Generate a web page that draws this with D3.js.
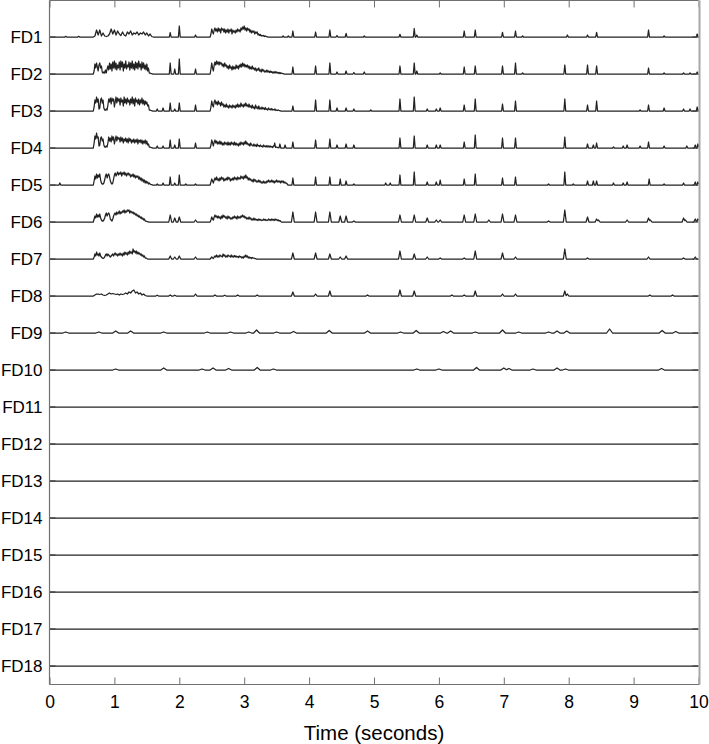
<!DOCTYPE html>
<html>
<head>
<meta charset="utf-8">
<script src="https://cdn.jsdelivr.net/npm/d3@7"></script>
<style>
  body { margin: 0; background: #fff; }
  svg { display: block; }
  text { font-family: "Liberation Sans", Arial, Helvetica, sans-serif; fill: #000; }
</style>
</head>
<body>
<svg id="chart" width="709" height="744"></svg>
<script>
// ---------------- DATA ----------------
const trackLabels = ["FD1","FD2","FD3","FD4","FD5","FD6","FD7","FD8","FD9",
  "FD10","FD11","FD12","FD13","FD14","FD15","FD16","FD17","FD18"];
const xTicks = [0,1,2,3,4,5,6,7,8,9,10];
const xTitle = "Time (seconds)";

// burst segments: [start time (s), sampling step (s)] + sampled amplitudes (a.u.)
const burstAStart = 0.675;
const burstBStart = 2.475;
const fineStep = 0.0125;
const coarseStep = 0.025;

const fd1BurstA = [0,1,7,2,7,1,4,1,0.5,1,3,8,3,7,2,6,3,1.5,5,2,1,5,3,6,2,4,3,5,2,4,3,5,2,4,1,3,0.5,0];
const fd1BurstB = [0,3,8,5,3,7,9,6,8,5,9,6,8,4,9,7,8,5,8,4,7,5,8,4,7,6,8,3,7,5,6,4,7,5,8,6,7,5,9,7,10,8,11,7,9,6,9,7,8,5,7,4,6,5,6,3,5,4,5,2,3,1.5,2.5,1,1.5,1,1.5,0.5,1,0.5,0.5,0,0];
const fd2BurstA = [0,3,10,6,11,7,3,9,11,6,8,2,1,2,1,4,1,5,8,4,11,5,10,3,12,6,13,5,11,4,9,6,12,4,13,7,12,3,10,6,13,5,9,7,12,4,11,6,13,5,10,4,12,6,11,5,13,7,10,4,12,6,11,5,9,4,10,3,6,1,1,0.5,0.5,0,0];
const fd2BurstB = [0,5,11,6,3,9,12,9,13,10,12,9,12,10,11,8,10,7,11,8,9,6,8,5,9,6,7,4,8,5,7,5,9,6,8,5,9,7,10,7,11,8,10,7,9,7,9,6,8,5,7,5,8,5,6,4,6,3,5,4,6,3,4,2,5,3,4,2,3,2,4,2,3,1.5,3,1.5,2.5,1,2,1,2.5,1,2,1,1.5,0.5,1.5,0.5,1,0.5,0.5,0,0];
const fd3BurstA = [0,4,11,8,14,9,12,2,3,11,13,8,11,3,1,1,2,1,6,12,9,13,7,13,10,12,4,9,14,8,13,10,12,6,13,9,11,5,14,8,12,7,13,9,11,6,12,8,14,7,12,5,13,9,11,7,12,6,11,8,13,7,11,6,10,7,9,5,6,1,1,0.5,0.5,0,0];
const fd3BurstB = [0,4,10,6,4,9,11,7,9,6,10,7,8,5,9,6,7,4,6,4,7,4,5,3,6,4,5,3,6,4,5,3,6,4,7,4,6,4,8,5,6,4,7,5,8,5,6,4,7,4,5,3,6,3,4,2,6,3,4,2,5,2,3,2,4,2,3,1.5,3.5,1.5,2,1,3,1.5,2,1,2.5,1,1.5,1,2,0.5,1,0.5,1,0.5,0.5,0,0];
const fd4BurstA = [0,5,12,9,15,10,11,2,3,10,11,7,9,3,1,1,2,1,5,11,7,10,6,12,8,11,4,8,12,7,11,9,10,6,11,7,10,5,9,7,10,6,9,5,10,7,9,5,8,6,9,5,8,6,9,4,8,6,8,5,8,4,7,5,8,4,7,3,4,1,1,0.5,0.5,0,0];
const fd4BurstB = [0,3,8,5,2,6,8,5,7,4,6,4,7,4,6,3,5,3,6,4,5,3,6,3,5,3,6,4,5,3,6,3,5,3,4,2,5,3,6,4,5,3,6,4,7,4,5,3,4,2,5,3,3,2,4,2,3,1.5,4,2,2.5,1.5,3,1.5,2,1,3,1.5,2,1,2.5,1,2,1,2,1,1.5,0.5,2,1,1,0.5,1,0.5,0.5,0,0];
const fd5BurstA = [0,4,9,6,11,7,10,8,11,5,2, 1,1,2,5, 9,11,7,10,11,8,4,2, 1,2,6,10,
  12,9,11,13,10,12,11,13,9,12,11,13,10,12,9,11,12,10,11,8,10,9,11,8,10,7,9,8,
  9,6,8,5,7,4,6,3,5,2,4,2,3,1,2,1,0.5,0.5,0,0];
const fd5BurstB = [0,3,6,4,2,5,7,5,8,5,6,4,7,5,8,6,7,4,6,5,7,5,8,6,7,4,6,5,7,5,8,6,7,5,8,6,7,6,9,7,8,6,9,7,10,7,8,5,7,5,6,4,5,3,6,4,5,3,4,3,5,3,4,2,3,2,4,2,3,2,4,3,5,3,4,3,5,3,4,2,4,3,5,3,4,3,4,2,4,3,4,2,3,2,2,1,0];
const fd6BurstA = [0,3,6,4,8,5,7,5,8,4,2, 1,1,2,4, 7,9,6,8,9,7,3,2, 1,3,6,8,
  9,7,10,8,9,11,8,10,9,11,10,12,9,11,10,12,11,12,9,11,10,9,10,8,9,7,8,6,
  7,5,6,4,5,3,4,2,3,1,1,0.5,0.5,0,0,0,0,0,0,0];
const fd6BurstB = [0,2,5,3,2,5,7,5,6,4,6,4,5,3,6,4,7,5,6,4,5,3,6,4,5,3,4,3,5,4,6,4,5,3,6,4,5,4,6,5,7,5,6,4,5,3,4,3,5,3,4,2,3,2,4,2,3,2,2.5,1.5,3,2,2.5,1.5,2,1.5,3,2,2.5,1.5,2,1.5,3,2,2.5,1.5,3,2,2.5,1.5,3,2,2.5,1.5,2,1,1.5,0.5,0];
const fd7BurstA = [0,2,5,3,7,4,5,3,6,3,2, 1,0.5,1,2, 4,5,3,5,4,3,2,3, 4,5,3,5,
  6,4,5,3,5,4,6,4,5,3,6,4,7,5,6,4,7,5,8,6,7,5,10,7,8,6,8,5,7,5,
  6,4,5,3,4,2,3,1,1,0.5,0,0];
const fd7BurstB = [0,1,2,1,0.5,2,3,2,4,2,3,2,4,3,3,2,5,3,4,2,3,2,4,3,3,2,4,2,3,2,3.5,2,3,2,2.5,1.5,3,2,2.5,1,2,1,3,2,4,2,3,1,2,1,1.5,0.5,1.5,1,1,0.5,0.5,0,0];
const fd8BurstA = [0,1,2,2,1.5,2,1,0.5,1,2,3,2,2.5,2,1.5,2,1,2,1.5,2,3,2,4,3,5,6,3,4,2,3,1,2,0.5,0];

// isolated peaks: [time (s), amplitude (a.u.)]
const fd1Spikes = [[0.25,0.7],[0.45,0.7],[1.86,4.5],[2.0,11],[2.25,2],[3.6,1],[3.68,1],[3.75,6],[4.1,5],[4.32,7],[4.43,1.5],[4.57,3.7],[4.85,1],[5.4,2.7],[5.62,8.5],[5.66,2],[6.39,6],[6.56,7],[6.98,4.7],[7.18,6],[7.29,1],[7.98,2],[8.29,2],[8.43,4.7],[9.23,7],[9.47,1],[9.98,3]];
const fd2Spikes = [[1.86,11],[1.93,5],[2.0,15],[2.25,5],[3.75,7],[4.1,8],[4.32,11],[4.43,2],[4.57,3],[4.69,1.5],[4.85,2],[5.4,8],[5.62,11],[5.66,3],[6.02,1],[6.39,7],[6.56,8],[6.98,8],[7.18,11],[7.29,1],[7.94,9],[8.29,9],[8.43,8],[9.23,6],[9.47,1],[9.77,1],[9.87,1],[9.98,2]];
const fd3Spikes = [[1.66,2],[1.75,3],[1.86,8],[1.93,2],[2.0,8],[2.25,6],[3.75,5],[4.1,11],[4.32,11],[4.43,3],[4.57,3],[4.69,2],[4.95,1],[5.4,12],[5.62,14],[5.82,2],[5.96,2],[6.02,3],[6.39,6],[6.56,12],[6.98,7],[7.18,10],[7.94,12],[8.29,6],[8.43,10],[9.1,1],[9.23,6],[9.47,3],[9.77,2],[9.87,2],[9.98,4]];
const fd4Spikes = [[1.66,2],[1.75,2],[1.86,8],[1.93,3],[2.0,9],[2.25,5],[3.47,5],[3.55,4],[3.63,3],[3.75,6],[4.1,8],[4.32,9],[4.43,3],[4.57,4],[4.69,3],[5.4,10],[5.62,12],[5.82,3],[5.96,3],[6.02,3],[6.39,6],[6.56,13],[6.98,10],[7.18,10],[7.94,11],[8.29,4],[8.38,3],[8.43,5],[8.69,1],[8.84,2],[8.9,3],[9.1,2],[9.23,6],[9.47,2],[9.82,2],[9.95,3],[9.99,4]];
const fd5Spikes = [[0.16,2],[1.66,1],[1.75,2],[1.86,8],[1.93,2],[2.0,10],[2.1,1],[2.25,1],[3.75,7],[4.1,8],[4.32,8],[4.48,6],[4.57,4],[4.69,1],[5.18,2],[5.25,2],[5.4,10],[5.62,13],[5.82,3],[5.96,3],[6.02,5],[6.39,6],[6.56,11],[6.98,7],[7.18,8],[7.69,1],[7.94,13],[8.07,1],[8.29,4],[8.38,4],[8.43,4],[8.69,2],[8.84,2],[8.9,3],[9.24,6],[9.47,1],[9.77,2],[9.95,3],[9.99,3]];
const fd6Spikes = [[1.86,7],[1.93,4],[2.0,5],[2.25,2],[3.75,10],[4.1,10],[4.32,10],[4.48,6],[4.57,6],[4.69,1],[5.4,7],[5.62,7],[5.82,4],[5.96,2],[6.02,2],[6.39,7],[6.56,8],[6.77,2],[6.98,8],[7.18,7],[7.69,1],[7.94,12],[8.29,5],[8.43,3],[8.46,2],[8.9,2],[9.23,4],[9.26,2],[9.77,4],[9.8,2],[9.95,3],[9.99,3]];
const fd7Spikes = [[1.86,3],[1.93,2],[2.0,3],[2.25,2],[3.75,6],[4.1,6],[4.32,5],[4.48,2],[4.57,3],[5.4,8],[5.62,5],[5.82,2],[6.02,1],[6.39,1],[6.56,8],[6.98,6],[7.18,2],[7.94,10],[8.29,1],[9.23,2],[9.77,1],[9.95,2]];
const fd8Spikes = [[1.66,0.8],[1.86,1],[1.93,0.8],[2.25,2],[2.55,1],[2.7,0.8],[2.9,1],[3.2,1],[3.75,4],[4.1,2],[4.32,5],[4.9,1],[5.4,6],[5.62,5],[6.2,1],[6.39,1],[6.56,5],[6.98,2],[7.18,2],[7.94,5],[7.98,2],[9.25,1],[9.6,1]];
const fd9Spikes = [[0.25,1],[0.76,1],[1.02,2],[1.25,2],[1.76,1],[2.43,1],[2.79,1],[3.07,1],[3.19,3],[3.5,1],[3.76,1.5],[4.31,2.5],[4.9,2],[5.41,1],[5.65,2.5],[6.07,1.5],[6.18,2],[6.56,1],[6.98,3],[7.23,1],[7.69,1],[7.82,2],[7.97,2],[8.63,4],[9.44,2.5],[9.65,1.5]];
const fd10Spikes = [[1.02,1],[1.76,2],[2.35,1],[2.52,2],[2.76,1.5],[3.2,2.5],[3.45,1],[5.66,1],[6.0,1],[6.58,2.5],[7.0,2],[7.08,1.5],[7.45,1],[7.82,2],[7.95,1],[9.43,1.5]];
const fd11Spikes = [];

// table built from the arrays above
const tracks = [
  { spikes: fd1Spikes, bursts: [[burstAStart, coarseStep, fd1BurstA], [burstBStart, fineStep, fd1BurstB]] },
  { spikes: fd2Spikes, bursts: [[burstAStart, fineStep, fd2BurstA], [burstBStart, fineStep, fd2BurstB]] },
  { spikes: fd3Spikes, bursts: [[burstAStart, fineStep, fd3BurstA], [burstBStart, fineStep, fd3BurstB]] },
  { spikes: fd4Spikes, bursts: [[burstAStart, fineStep, fd4BurstA], [burstBStart, fineStep, fd4BurstB]] },
  { spikes: fd5Spikes, bursts: [[burstAStart, fineStep, fd5BurstA], [burstBStart, fineStep, fd5BurstB]] },
  { spikes: fd6Spikes, bursts: [[burstAStart, fineStep, fd6BurstA], [burstBStart, fineStep, fd6BurstB]] },
  { spikes: fd7Spikes, bursts: [[burstAStart, fineStep, fd7BurstA], [burstBStart, fineStep, fd7BurstB]] },
  { spikes: fd8Spikes, bursts: [[burstAStart, coarseStep, fd8BurstA]] },
  { spikes: fd9Spikes, bursts: [] },
  { spikes: fd10Spikes, bursts: [] },
  { spikes: fd11Spikes, bursts: [] }
];
trackLabels.forEach((lab, i) => {
  if (!tracks[i]) tracks[i] = { spikes: [], bursts: [] };
  tracks[i].label = lab;
  tracks[i].index = i + 1;
});

// ---------------- CHART ----------------
const svg = d3.select("#chart");
const x = d3.scaleLinear().domain([0, 10]).range([49.5, 698.5]);
const y = d3.scaleLinear().domain([0, 18.5]).range([0, 684.5]);
const amp = d3.scaleLinear().domain([0, 37]).range([0, y(1) - y(0)]);
const plotTop = 0.5, plotBottom = y(18.5);

function peakHalfWidth(k) {
  if (k <= 5) return 0.014;
  if (k <= 8) return 0.022;
  return 0.045;
}

function evalPL(c, t) {
  if (t < c[0][0] || t > c[c.length - 1][0]) return 0;
  for (let i = 1; i < c.length; i++) {
    const a = c[i - 1], b = c[i];
    if (t <= b[0]) {
      if (b[0] === a[0]) return Math.max(a[1], b[1]);
      return a[1] + (b[1] - a[1]) * (t - a[0]) / (b[0] - a[0]);
    }
  }
  return 0;
}

function traceValues(tr) {
  const hw = peakHalfWidth(tr.index);
  const comps = [];
  tr.bursts.forEach(([s, step, vals]) => comps.push(vals.map((v, i) => [s + i * step, v])));
  tr.spikes.forEach(([t, h]) => comps.push([[t - hw, 0], [t, h], [t + hw, 0]]));
  const ts = new Set([0, 10]);
  comps.forEach(c => c.forEach(p => ts.add(+p[0].toFixed(4))));
  const sorted = [...ts].filter(t => t >= 0 && t <= 10).sort((a, b) => a - b);
  return sorted.map(t => [t, comps.length ? d3.max(comps, c => evalPL(c, t)) : 0]);
}

// traces
const gTr = svg.append("g");
tracks.forEach(tr => {
  const base = y(tr.index);
  const line = d3.line().x(d => x(d[0])).y(d => base - amp(d[1]));
  gTr.append("path")
    .attr("d", line(traceValues(tr)))
    .attr("fill", "none")
    .attr("stroke", "#222")
    .attr("stroke-width", 1.25)
    .attr("stroke-linejoin", "round");
});

// y ticks (left and right, inward) at each track
const gY = svg.append("g").attr("stroke", "#444").attr("stroke-width", 1.25);
tracks.forEach(tr => {
  const yy = y(tr.index);
  gY.append("line").attr("x1", x(0)).attr("x2", x(0) + 6).attr("y1", yy).attr("y2", yy);
  gY.append("line").attr("x1", x(10) - 6).attr("x2", x(10)).attr("y1", yy).attr("y2", yy);
});

// y labels
svg.append("g").selectAll("text").data(tracks).join("text")
  .attr("x", 42.5).attr("y", d => y(d.index)).attr("dy", "0.37em")
  .attr("text-anchor", "end").style("font-size", "17px")
  .text(d => d.label);

// x axes
const axB = svg.append("g").attr("transform", `translate(0,${plotBottom})`)
  .call(d3.axisBottom(x).tickValues(xTicks).tickFormat(d3.format("d"))
    .tickSizeInner(-7).tickSizeOuter(0).tickPadding(11));
axB.select(".domain").remove();
axB.selectAll(".tick line").attr("stroke", "#707070");
axB.selectAll(".tick text").style("font-size", "17.5px")
  .style("font-family", '"Liberation Sans", Arial, Helvetica, sans-serif').attr("fill", "#000");

const axT = svg.append("g").attr("transform", `translate(0,${plotTop})`)
  .call(d3.axisTop(x).tickValues(xTicks).tickFormat("").tickSizeInner(-7).tickSizeOuter(0));
axT.select(".domain").remove();
axT.selectAll(".tick line").attr("stroke", "#707070");

// frame
svg.append("line").attr("x1", x(0)).attr("x2", x(10)).attr("y1", plotTop).attr("y2", plotTop)
  .attr("stroke", "#707070");
svg.append("line").attr("x1", x(0)).attr("x2", x(10) + 1).attr("y1", plotBottom).attr("y2", plotBottom)
  .attr("stroke", "#707070");
svg.append("line").attr("x1", x(0)).attr("x2", x(0)).attr("y1", plotTop).attr("y2", plotBottom)
  .attr("stroke", "#707070").attr("stroke-width", 1.2);
svg.append("line").attr("x1", x(10) + 1).attr("x2", x(10) + 1).attr("y1", plotTop).attr("y2", plotBottom)
  .attr("stroke", "#a8a8a8").attr("stroke-width", 2);

// x title
svg.append("text").attr("x", (x(0) + x(10)) / 2).attr("y", 739.5)
  .attr("text-anchor", "middle").style("font-size", "20.5px").text(xTitle);
</script>
</body>
</html>
